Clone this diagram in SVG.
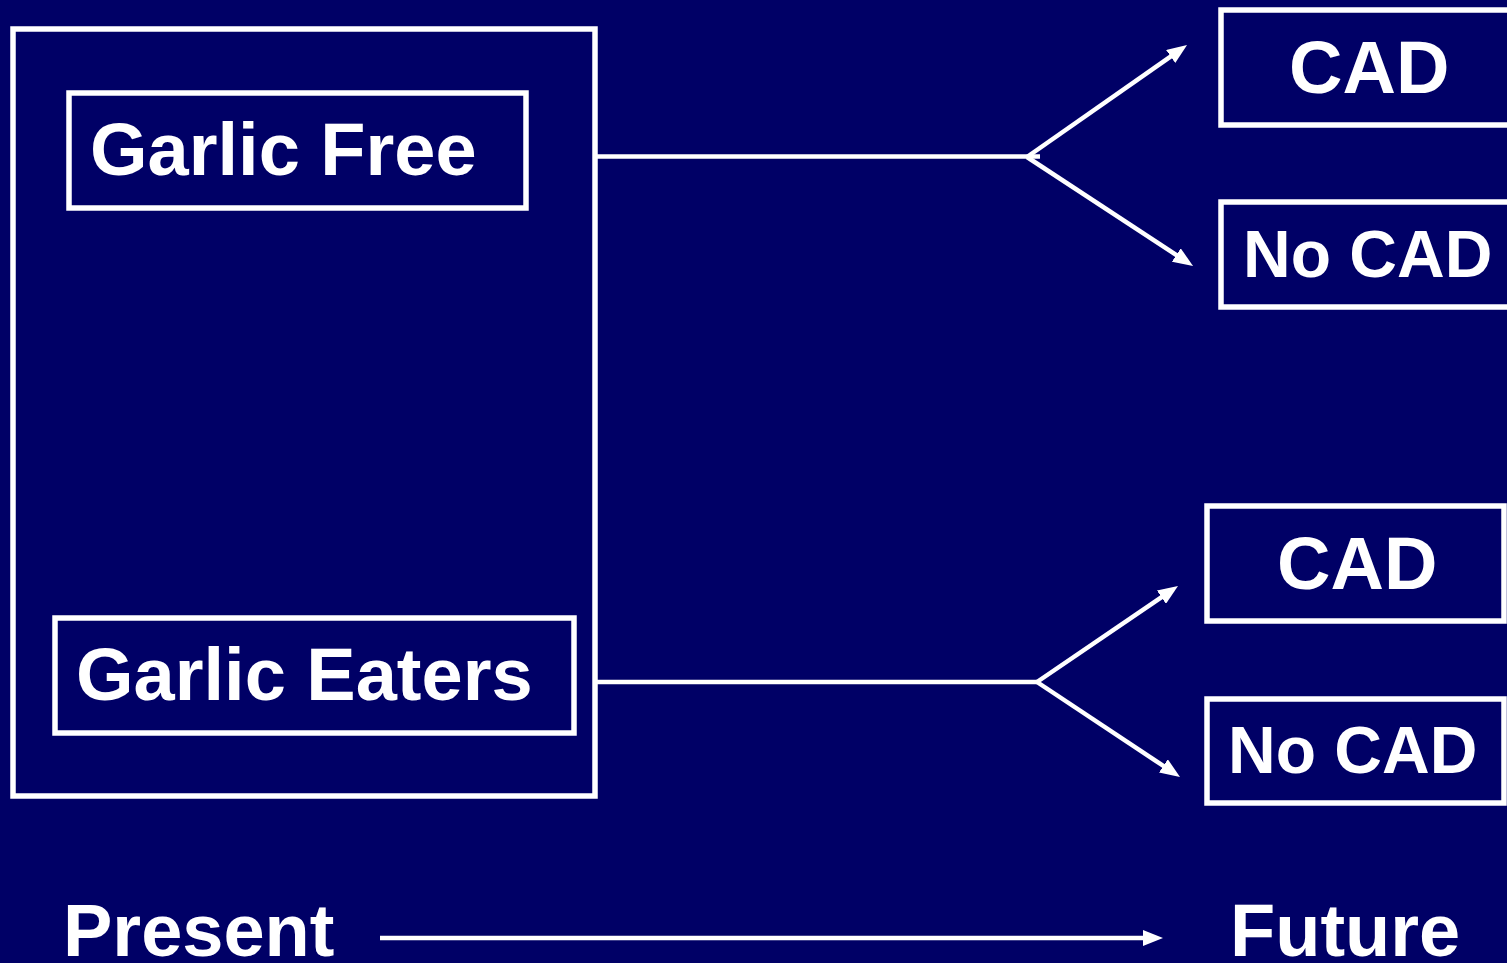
<svg xmlns="http://www.w3.org/2000/svg" width="1507" height="963" viewBox="0 0 1507 963">
  <style>
    .box { fill: none; stroke: #ffffff; stroke-width: 5.5; }
    .lbl { fill: #ffffff; font-family: "Liberation Sans", Arial, sans-serif; font-weight: bold; }
    .big { font-size: 74px; }
    .mid { font-size: 66px; }
    .link { stroke: #ffffff; stroke-width: 4.5; fill: none; }
  </style>
  <defs>
    <marker id="head" viewBox="0 0 20 16" refX="2" refY="8" markerWidth="20" markerHeight="16" markerUnits="userSpaceOnUse" orient="auto">
      <path d="M0,0 L20,8 L0,16 Z" fill="#ffffff"/>
    </marker>
  </defs>
  <rect width="1507" height="963" fill="#000066"/>

  <g id="cohort">
    <rect class="box" x="13" y="29" width="582" height="767"/>
  </g>
  <g id="garlic-free">
    <rect class="box" x="69" y="93" width="457" height="115"/>
    <text class="lbl big" x="90" y="175">Garlic Free</text>
  </g>
  <g id="garlic-eaters">
    <rect class="box" x="55" y="618" width="519" height="115"/>
    <text class="lbl big" x="76" y="700">Garlic Eaters</text>
  </g>

  <g id="cad-1">
    <rect class="box" x="1221" y="10" width="300" height="115"/>
    <text class="lbl big" x="1289" y="93">CAD</text>
  </g>
  <g id="nocad-1">
    <rect class="box" x="1221" y="202" width="300" height="105"/>
    <text class="lbl mid" x="1243" y="277">No CAD</text>
  </g>
  <g id="cad-2">
    <rect class="box" x="1207" y="506" width="297" height="115"/>
    <text class="lbl big" x="1277" y="589">CAD</text>
  </g>
  <g id="nocad-2">
    <rect class="box" x="1207" y="699" width="297" height="104"/>
    <text class="lbl mid" x="1228" y="773">No CAD</text>
  </g>

  <g id="present">
    <text class="lbl big" x="63" y="956">Present</text>
  </g>
  <g id="future">
    <text class="lbl big" x="1230" y="956">Future</text>
  </g>

  <g id="connectors">
    <line class="link" x1="597" y1="156.5" x2="1040" y2="156.5"/>
    <line class="link" x1="1027" y1="157" x2="1172.3" y2="55.3" marker-end="url(#head)"/>
    <line class="link" x1="1027" y1="157" x2="1178" y2="256.1" marker-end="url(#head)"/>
    <line class="link" x1="597" y1="682" x2="1037" y2="682"/>
    <line class="link" x1="1037" y1="682" x2="1163.1" y2="596.1" marker-end="url(#head)"/>
    <line class="link" x1="1037" y1="682" x2="1165" y2="767" marker-end="url(#head)"/>
    <line class="link" x1="380" y1="938" x2="1145" y2="938" marker-end="url(#head)"/>
  </g>
</svg>
